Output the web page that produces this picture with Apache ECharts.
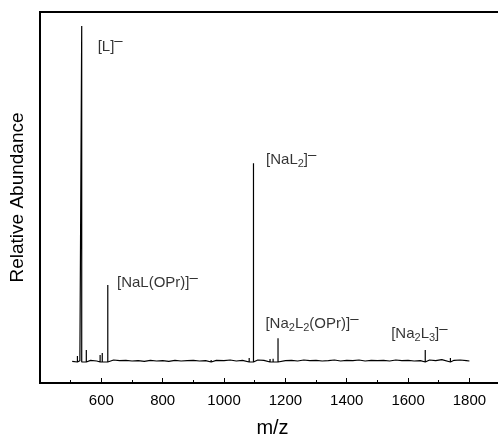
<!DOCTYPE html>
<html>
<head>
<meta charset="utf-8">
<script src="https://cdn.jsdelivr.net/npm/echarts@6/dist/echarts.min.js"></script>
<style>
  html, body { margin: 0; padding: 0; background: #fff; }
  #chart { width: 498px; height: 434px; }
</style>
</head>
<body>
<div id="chart"></div>
<script>
// peak positions (m/z) and heights (relative abundance, [L]- = 100)
const peakMz = [522, 536, 551, 596, 603, 621, 958, 1082, 1096, 1150, 1160, 1176, 1656, 1738];
const peakHeight = [1.8, 100, 3.6, 2.1, 2.7, 22.9, 0.6, 1.2, 59.2, 0.9, 1.0, 7.1, 3.6, 1.2];

// baseline noise
const noiseMz = [505, 530, 565, 585, 640, 660, 680, 700, 720, 740, 760, 780, 800, 820, 840, 860, 880, 900, 920, 940,
  975, 1000, 1020, 1040, 1060, 1110, 1130, 1200, 1220, 1240, 1260, 1280, 1300, 1320, 1340, 1360, 1380, 1400,
  1420, 1440, 1460, 1480, 1500, 1520, 1540, 1560, 1580, 1600, 1620, 1640, 1670, 1690, 1710, 1750, 1770, 1790, 1800];
const noiseVal = [0.2, 0.4, 0.5, 0.3, 0.6, 0.4, 0.5, 0.3, 0.4, 0.2, 0.5, 0.3, 0.4, 0.2, 0.5, 0.3, 0.4, 0.5, 0.3, 0.4,
  0.5, 0.4, 0.6, 0.3, 0.5, 0.6, 0.5, 0.4, 0.5, 0.3, 0.6, 0.4, 0.5, 0.3, 0.4, 0.6, 0.3, 0.5,
  0.4, 0.6, 0.3, 0.5, 0.4, 0.5, 0.3, 0.6, 0.4, 0.5, 0.3, 0.4, 0.6, 0.4, 0.7, 0.5, 0.6, 0.4, 0.3];

// annotations: text pieces and their anchor (left edge, middle) in data space
const annoText = [
  '[L]{sup|\u2013}',
  '[NaL(OPr)]{sup|\u2013}',
  '[NaL{sub|2}]{sup|\u2013}',
  '[Na{sub|2}L{sub|2}(OPr)]{sup|\u2013}',
  '[Na{sub|2}L{sub|3}]{sup|\u2013}'
];
const annoMz = [588, 651, 1137, 1135, 1545];
const annoY = [93.9, 23.5, 60.1, 11.3, 8.3];

const xTicks = [600, 800, 1000, 1200, 1400, 1600, 1800];

// build the stick spectrum
const pts = [];
peakMz.forEach((m, i) => {
  pts.push([m, 0]); pts.push([m, peakHeight[i]]); pts.push([m, 0]);
});
noiseMz.forEach((m, i) => pts.push([m, noiseVal[i]]));
pts.sort((a, b) => a[0] - b[0]);

const font = "'Liberation Sans', Arial, Helvetica, sans-serif";

const myChart = echarts.init(document.getElementById('chart'));
const option = {
  animation: false,
  backgroundColor: '#fff',
  grid: {
    left: 40, top: 12, width: 465, height: 371,
    outerBoundsMode: 'none', containLabel: false,
    show: true, borderColor: '#000', borderWidth: 2
  },
  xAxis: {
    type: 'value',
    min: 400, max: 1916, interval: 200,
    name: 'm/z', nameLocation: 'middle', nameGap: 35,
    nameTextStyle: { fontFamily: font, fontSize: 20, color: '#000' },
    axisLine: { show: true, onZero: false, lineStyle: { color: '#000', width: 2 } },
    axisTick: { show: true, inside: true, length: 5, lineStyle: { color: '#000', width: 1 } },
    minorTick: { show: true, splitNumber: 2, length: 3, lineStyle: { color: '#000', width: 1 } },
    axisLabel: {
      fontFamily: font, fontSize: 15, color: '#000', margin: 10,
      formatter: v => xTicks.includes(v) ? String(v) : ''
    },
    splitLine: { show: false }
  },
  yAxis: {
    type: 'value',
    min: -6.25, max: 104.2,
    name: 'Relative Abundance', nameLocation: 'middle', nameGap: 13,
    nameTextStyle: { fontFamily: font, fontSize: 19, color: '#000' },
    axisLine: { show: true, onZero: false, lineStyle: { color: '#000', width: 2 } },
    axisTick: { show: false },
    axisLabel: { show: false },
    splitLine: { show: false }
  },
  series: [
    {
      type: 'line',
      data: pts,
      showSymbol: false,
      lineStyle: { color: '#000', width: 1.2 },
      silent: true
    },
    {
      type: 'scatter',
      symbolSize: 0,
      silent: true,
      data: annoMz.map((m, i) => ({
        value: [m, annoY[i]],
        label: {
          show: true, position: 'right', distance: 0,
          formatter: annoText[i],
          fontFamily: font, fontSize: 15, color: '#000',
          rich: {
            sub: { fontFamily: font, fontSize: 11, color: '#000', verticalAlign: 'middle', padding: [8, 0, 0, 0] },
            sup: { fontFamily: font, fontSize: 15, color: '#000', verticalAlign: 'top', padding: [0, 0, 11, 0] }
          }
        }
      }))
    }
  ]
};
option && myChart.setOption(option);
</script>
</body>
</html>
